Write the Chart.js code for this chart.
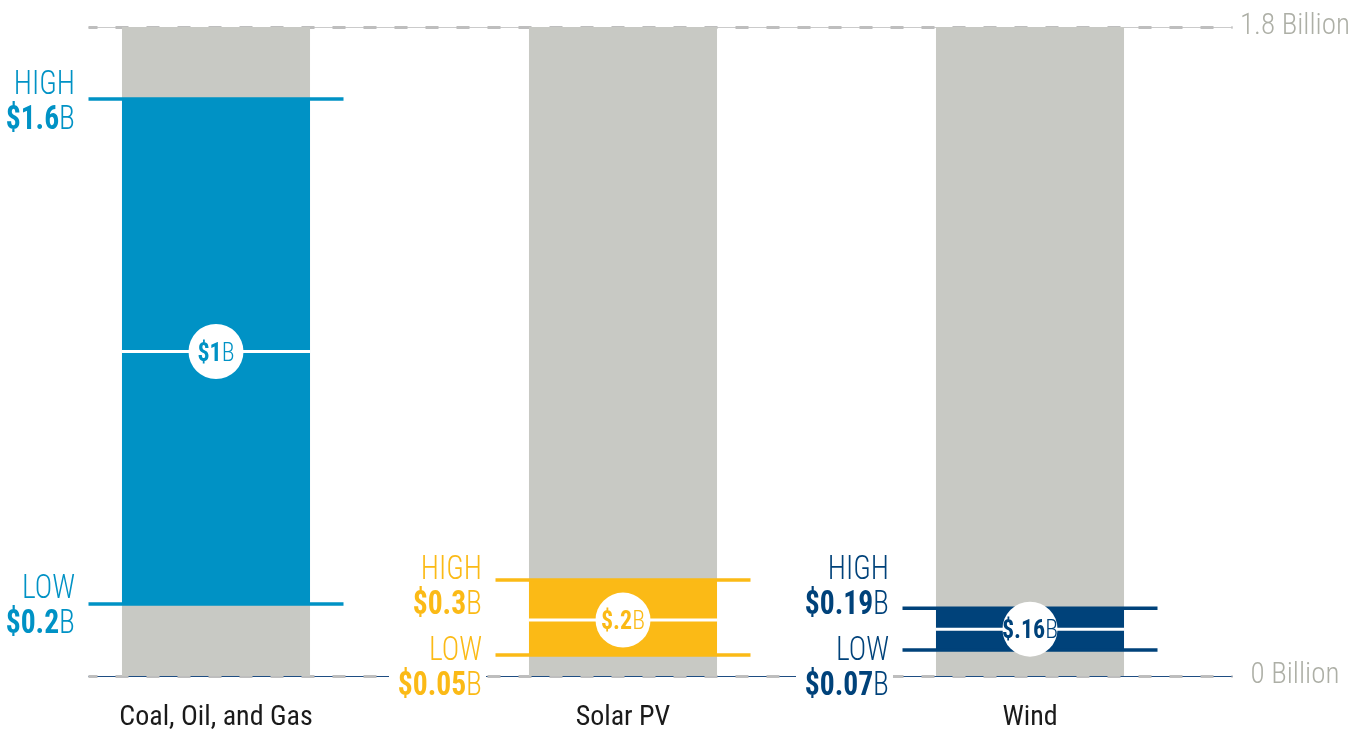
<!DOCTYPE html>
<html><head><meta charset="utf-8">
<script src="https://cdn.jsdelivr.net/npm/chart.js@4.4.1/dist/chart.umd.min.js"></script>
<style>html,body{margin:0;padding:0;background:#fff;} #wrap{width:1363px;height:732px;position:relative}</style>
</head><body><div id="wrap"><canvas id="c" width="1363" height="732"></canvas></div>
<script>
const categories = ['Coal, Oil, and Gas', 'Solar PV', 'Wind'];
const lowValues = [0.2, 0.058, 0.072];
const highValues = [1.6, 0.266, 0.188];
const midValues = [0.9, 0.155, 0.13];
const lowLabels = ['$0.2', '$0.05', '$0.07'];
const highLabels = ['$1.6', '$0.3', '$0.19'];
const midLabels = ['$1', '$.2', '$.16'];
const axisMax = 1.8;
const axisTickValues = [0, 1.8];
const axisTickLabels = ['0 Billion', '1.8 Billion'];
const seriesColors = ['#0092C5', '#FBBA16', '#00427A'];

const FONT = '"Roboto Condensed", "Open Sans Condensed", "DejaVu Sans Condensed", sans-serif';

function drawParts(ctx, parts, x, capCenterY, size, align, color, k) {
  let total = 0;
  parts.forEach(p => { ctx.font = p.w + ' ' + size + 'px ' + FONT; p.width = ctx.measureText(p.t).width * k; total += p.width; });
  let sx = align === 'right' ? x - total : align === 'center' ? x - total / 2 : x;
  ctx.fillStyle = color; ctx.textAlign = 'left'; ctx.textBaseline = 'alphabetic';
  const base = capCenterY + size * 0.355;
  parts.forEach(p => {
    ctx.save();
    ctx.translate(sx, base); ctx.scale(k, 1);
    ctx.font = p.w + ' ' + size + 'px ' + FONT; ctx.fillText(p.t, 0, 0);
    ctx.restore();
    sx += p.width;
  });
  return total;
}

const decor = {
  id: 'decor',
  beforeDatasetsDraw(chart) {
    const {ctx, chartArea, scales: {x, y}} = chart;
    const startX = x.getPixelForValue(0) - 127.5;
    const endX = chartArea.right - 1;
    ctx.save();
    [[axisMax, '#CBCBCB'], [0, '#1E4D82']].forEach(([v, thin]) => {
      const py = Math.round(y.getPixelForValue(v)) + 0.5;
      ctx.setLineDash([]); ctx.strokeStyle = thin; ctx.lineWidth = 1.2;
      ctx.beginPath(); ctx.moveTo(startX, py); ctx.lineTo(endX, py); ctx.stroke();
      ctx.setLineDash([13, 18]); ctx.lineDashOffset = 4; ctx.strokeStyle = '#BEBEBE'; ctx.lineWidth = 3;
      ctx.beginPath(); ctx.moveTo(startX, py); ctx.lineTo(endX, py); ctx.stroke();
    });
    ctx.restore();
  },
  afterDatasetsDraw(chart) {
    const {ctx, scales: {x, y}} = chart;
    const bars = chart.getDatasetMeta(0).data;
    const y0 = y.getPixelForValue(0);
    const K = 0.87;
    ctx.save();
    categories.forEach((c, i) => {
      const col = seriesColors[i];
      const bar = bars[i];
      const rightEdge = bar.x - bar.width / 2 - 47;
      const hy = y.getPixelForValue(highValues[i]);
      const ly = y.getPixelForValue(lowValues[i]);
      let hc = hy, lc = ly;
      if (ly - hy < 100) { lc = y0 - 11; hc = lc - 81; }
      const S = 34;
      [[hc, 'HIGH', highLabels[i]], [lc, 'LOW', lowLabels[i]]].forEach(([cy, lab, val]) => {
        ctx.font = 'bold ' + S + 'px ' + FONT;
        const w = ctx.measureText(val + 'B').width * K;
        ctx.fillStyle = '#fff';
        ctx.fillRect(rightEdge - w - 8, cy + 4, w + 12, 30);
        drawParts(ctx, [{t: lab, w: '300'}], rightEdge, cy - 17.5, S, 'right', col, K);
        drawParts(ctx, [{t: val, w: 'bold'}, {t: 'B', w: '300'}], rightEdge, cy + 17.5, S, 'right', col, K);
      });
      const my = y.getPixelForValue(midValues[i]);
      drawParts(ctx, [{t: midLabels[i], w: 'bold'}, {t: 'B', w: '300'}], bar.x, my, 26, 'center', col, 0.92);
    });
    ctx.restore();
  }
};

new Chart(document.getElementById('c'), {
  type: 'bar',
  data: {
    labels: categories,
    datasets: [
      { type: 'bar', data: categories.map(() => [0, axisMax]), backgroundColor: '#C8C9C4', grouped: false, order: 6,
        categoryPercentage: 1, barPercentage: 0.462, borderWidth: 0 },
      { type: 'bar', data: lowValues.map((v, i) => [v, highValues[i]]), backgroundColor: seriesColors, grouped: false, order: 5,
        categoryPercentage: 1, barPercentage: 0.462, borderWidth: 0 },
      { type: 'line', data: highValues, showLine: false, pointStyle: 'line', pointRadius: 127.5, pointHoverRadius: 127.5,
        pointBorderWidth: 3.5, pointHoverBorderWidth: 3.5, pointBorderColor: seriesColors, order: 4 },
      { type: 'line', data: lowValues, showLine: false, pointStyle: 'line', pointRadius: 127.5, pointHoverRadius: 127.5,
        pointBorderWidth: 3.5, pointHoverBorderWidth: 3.5, pointBorderColor: seriesColors, order: 4 },
      { type: 'line', data: midValues, showLine: false, pointStyle: 'line', pointRadius: 94, pointHoverRadius: 94,
        pointBorderWidth: 3, pointHoverBorderWidth: 3, pointBorderColor: '#FFFFFF', order: 3 },
      { type: 'line', data: midValues, showLine: false, pointStyle: 'circle', pointRadius: 27.5, pointHoverRadius: 27.5,
        pointBorderWidth: 0, pointBackgroundColor: '#FFFFFF', order: 2 }
    ]
  },
  options: {
    responsive: false, animation: false, events: [],
    layout: { autoPadding: false, padding: { left: 12.5, top: 27, right: 0, bottom: 0 } },
    plugins: { legend: { display: false }, tooltip: { enabled: false } },
    scales: {
      x: { type: 'category', offset: true, grid: { display: false, drawTicks: false }, border: { display: false },
        afterFit: s => { s.height = 56; },
        ticks: { color: '#1A1A1A', padding: 24.8, font: { family: FONT, size: 28, weight: '400' } } },
      y: { position: 'right', min: 0, max: axisMax, grid: { display: false, drawTicks: false }, border: { display: false },
        afterBuildTicks: s => { s.ticks = axisTickValues.map(v => ({ value: v })); },
        afterFit: s => { s.width = 129.5; },
        ticks: { color: '#ADAFA6', padding: 6.5, crossAlign: 'center', font: { family: FONT, size: 29, weight: '300' },
          callback: v => axisTickLabels[axisTickValues.indexOf(v)] } }
    }
  },
  plugins: [decor]
});
</script>
</body></html>
